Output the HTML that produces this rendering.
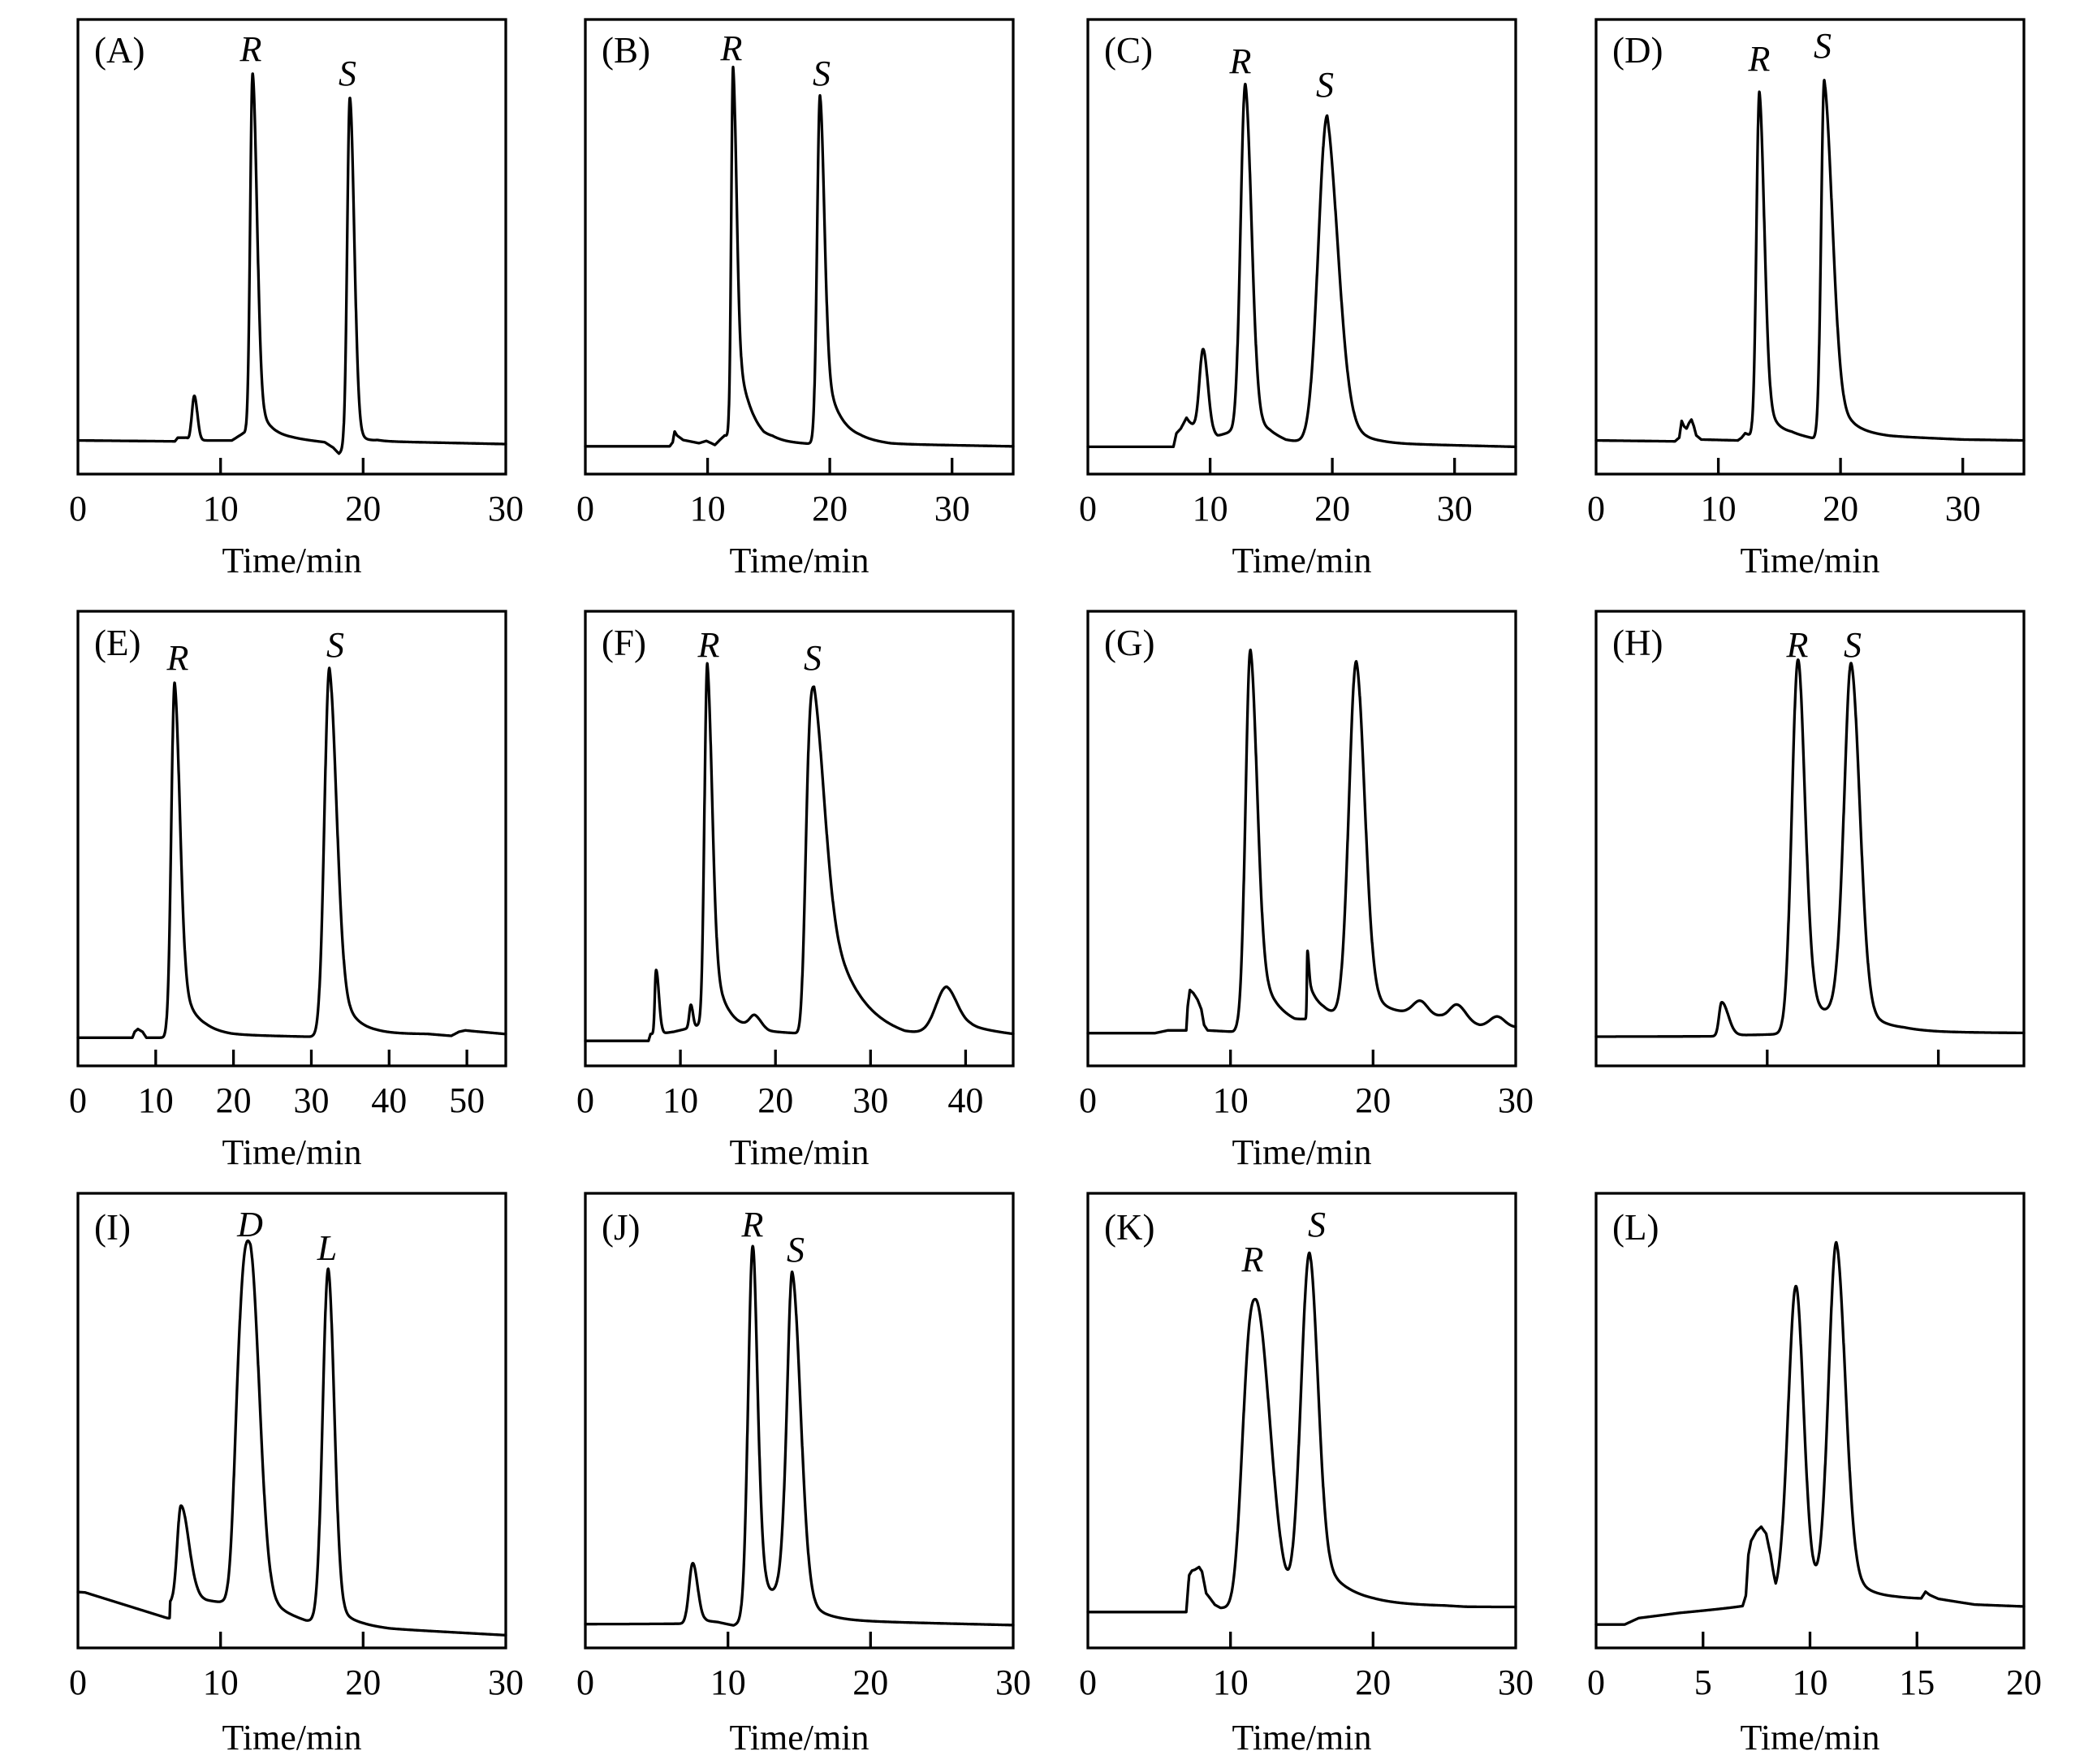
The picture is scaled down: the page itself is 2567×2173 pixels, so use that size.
<!DOCTYPE html>
<html><head><meta charset="utf-8">
<style>
html,body{margin:0;padding:0;background:#fff;}
svg{display:block;}
text{font-family:"Liberation Serif","Times New Roman",serif;fill:#000;}
.it{font-style:italic;}
</style></head><body>
<svg id="s" width="2567" height="2173" viewBox="0 0 2567 2173" xmlns="http://www.w3.org/2000/svg">
<rect width="2567" height="2173" fill="#fff"/>
<g fill="none" stroke="#000" stroke-width="3.3">
<rect x="96" y="24" width="527" height="560"/>
<rect x="721" y="24" width="527" height="560"/>
<rect x="1340" y="24" width="527" height="560"/>
<rect x="1966" y="24" width="527" height="560"/>
<rect x="96" y="753" width="527" height="560"/>
<rect x="721" y="753" width="527" height="560"/>
<rect x="1340" y="753" width="527" height="560"/>
<rect x="1966" y="753" width="527" height="560"/>
<rect x="96" y="1470" width="527" height="560"/>
<rect x="721" y="1470" width="527" height="560"/>
<rect x="1340" y="1470" width="527" height="560"/>
<rect x="1966" y="1470" width="527" height="560"/>
<path d="M271.7 584V564M447.3 584V564
M871.6 584V564M1022.1 584V564M1172.7 584V564
M1490.6 584V564M1641.1 584V564M1791.7 584V564
M2116.6 584V564M2267.1 584V564M2417.7 584V564
M191.8 1313V1293M287.6 1313V1293M383.5 1313V1293M479.3 1313V1293M575.1 1313V1293
M838.1 1313V1293M955.2 1313V1293M1072.3 1313V1293M1189.4 1313V1293
M1515.7 1313V1293M1691.3 1313V1293
M2176.8 1313V1293M2387.6 1313V1293
M271.7 2030V2010M447.3 2030V2010
M896.7 2030V2010M1072.3 2030V2010
M1515.7 2030V2010M1691.3 2030V2010
M2097.75 2030V2010M2229.5 2030V2010M2361.25 2030V2010"/>
</g>
<g id="traces" fill="none" stroke="#000" stroke-width="3.3" stroke-linejoin="round" stroke-linecap="round"></g>

<g font-size="45">
<text x="116" y="77">(A)</text>
<text x="741" y="77">(B)</text>
<text x="1360" y="77">(C)</text>
<text x="1986" y="77">(D)</text>
<text x="116" y="807">(E)</text>
<text x="741" y="807">(F)</text>
<text x="1360" y="807">(G)</text>
<text x="1986" y="807">(H)</text>
<text x="116" y="1527">(I)</text>
<text x="741" y="1527">(J)</text>
<text x="1360" y="1527">(K)</text>
<text x="1986" y="1527">(L)</text>
</g>

<g font-size="44" class="it" text-anchor="middle">
<text x="309" y="75">R</text><text x="428" y="105">S</text>
<text x="901" y="74">R</text><text x="1012" y="105">S</text>
<text x="1528" y="90">R</text><text x="1632" y="119">S</text>
<text x="2167" y="87">R</text><text x="2245" y="71">S</text>
<text x="219" y="825">R</text><text x="413" y="809">S</text>
<text x="873" y="809">R</text><text x="1001" y="825">S</text>
<text x="2214" y="809">R</text><text x="2282" y="809">S</text>
<text x="308" y="1523">D</text><text x="403" y="1552">L</text>
<text x="927" y="1523">R</text><text x="980" y="1554">S</text>
<text x="1543" y="1566">R</text><text x="1622" y="1523">S</text>
</g>

<g font-size="44" text-anchor="middle">
<text x="96" y="641">0</text><text x="271.7" y="641">10</text><text x="447.3" y="641">20</text><text x="623" y="641">30</text>
<text x="721" y="641">0</text><text x="871.6" y="641">10</text><text x="1022.1" y="641">20</text><text x="1172.7" y="641">30</text>
<text x="1340" y="641">0</text><text x="1490.6" y="641">10</text><text x="1641.1" y="641">20</text><text x="1791.7" y="641">30</text>
<text x="1966" y="641">0</text><text x="2116.6" y="641">10</text><text x="2267.1" y="641">20</text><text x="2417.7" y="641">30</text>

<text x="96" y="1370">0</text><text x="191.8" y="1370">10</text><text x="287.6" y="1370">20</text><text x="383.5" y="1370">30</text><text x="479.3" y="1370">40</text><text x="575.1" y="1370">50</text>
<text x="721" y="1370">0</text><text x="838.1" y="1370">10</text><text x="955.2" y="1370">20</text><text x="1072.3" y="1370">30</text><text x="1189.4" y="1370">40</text>
<text x="1340" y="1370">0</text><text x="1515.7" y="1370">10</text><text x="1691.3" y="1370">20</text><text x="1867" y="1370">30</text>

<text x="96" y="2087">0</text><text x="271.7" y="2087">10</text><text x="447.3" y="2087">20</text><text x="623" y="2087">30</text>
<text x="721" y="2087">0</text><text x="896.7" y="2087">10</text><text x="1072.3" y="2087">20</text><text x="1248" y="2087">30</text>
<text x="1340" y="2087">0</text><text x="1515.7" y="2087">10</text><text x="1691.3" y="2087">20</text><text x="1867" y="2087">30</text>
<text x="1966" y="2087">0</text><text x="2097.75" y="2087">5</text><text x="2229.5" y="2087">10</text><text x="2361.25" y="2087">15</text><text x="2493" y="2087">20</text>

<text x="359.5" y="705">Time/min</text>
<text x="984.5" y="705">Time/min</text>
<text x="1603.5" y="705">Time/min</text>
<text x="2229.5" y="705">Time/min</text>
<text x="359.5" y="1434">Time/min</text>
<text x="984.5" y="1434">Time/min</text>
<text x="1603.5" y="1434">Time/min</text>
<text x="359.5" y="2155">Time/min</text>
<text x="984.5" y="2155">Time/min</text>
<text x="1603.5" y="2155">Time/min</text>
<text x="2229.5" y="2155">Time/min</text>
</g>
</svg>
<script>
(function(){
var W=527,H=560;
var CL=[96,721,1340,1966], RT=[24,753,1470];
function interp(b,t){
  if(t<=b[0][0]) return b[0][1];
  for(var i=1;i<b.length;i++){
    if(t<=b[i][0]){var t0=b[i-1][0],v0=b[i-1][1],t1=b[i][0],v1=b[i][1];return v0+(v1-v0)*(t-t0)/(t1-t0);}
  }
  return b[b.length-1][1];
}
function side(d,w,m,p){var z=Math.abs(d)/w;return (1-m)*Math.exp(-0.693147*Math.pow(z,p))+m/(1+z*z);}
function pk(t,q){
  var d=t-q.t;
  if(d<0) return q.h*side(d,q.l,q.ml||0,q.pl||2);
  var a=q.a||0,tau=q.tau||1;
  return q.h*((1-a)*side(d,q.r,q.mr||0,q.pr||2)+a*Math.exp(-d/tau));
}
var P=[
{c:0,r:0,tm:30,b:[[0,0.074],[6.8,0.072],[7.0,0.08],[7.6,0.08],[7.8,0.074],[10.8,0.074],[11.2,0.082],[11.6,0.09],[13,0.082],[15,0.078],[17.3,0.07],[17.9,0.058],[18.3,0.045],[18.7,0.055],[21,0.072],[30,0.066]],
 p:[{t:8.16,h:0.098,l:0.2,r:0.25},{t:12.25,h:0.795,l:0.2,r:0.36,a:0.15,tau:0.8},{t:19.07,h:0.77,l:0.22,r:0.36,a:0.1,tau:0.6}]},
{c:1,r:0,tm:35,b:[[0,0.061],[6.9,0.061],[7.15,0.07],[7.3,0.094],[7.5,0.085],[8.0,0.075],[9.3,0.068],[9.9,0.073],[10.3,0.068],[10.6,0.064],[11.0,0.075],[11.4,0.085],[12.5,0.078],[14.6,0.066],[15.3,0.07],[16.4,0.068],[18.2,0.066],[20.5,0.07],[22.5,0.072],[25,0.066],[35,0.061]],
 p:[{t:12.09,h:0.815,l:0.18,r:0.33,a:0.33,tau:1.1},{t:19.2,h:0.765,l:0.28,r:0.42,a:0.3,tau:1.2}]},
{c:2,r:0,tm:35,b:[[0,0.06],[7.0,0.06],[7.25,0.09],[7.6,0.1],[8.07,0.124],[8.3,0.115],[8.57,0.108],[9.0,0.1],[10.0,0.088],[10.6,0.084],[11.6,0.092],[12.9,0.088],[14.9,0.085],[16.2,0.073],[17.5,0.07],[20,0.068],[24,0.068],[26,0.066],[35,0.06]],
 p:[{t:9.43,h:0.18,l:0.35,r:0.45},{t:12.88,h:0.77,l:0.45,r:0.6,a:0.15,tau:0.9},{t:19.58,h:0.72,l:0.85,r:1.1,a:0.3,tau:1.2}]},
{c:3,r:0,tm:35,b:[[0,0.074],[6.45,0.072],[6.8,0.08],[7.0,0.117],[7.2,0.105],[7.4,0.1],[7.6,0.112],[7.8,0.12],[8.0,0.105],[8.2,0.085],[8.6,0.076],[11.6,0.074],[11.9,0.08],[12.2,0.09],[12.6,0.085],[14,0.087],[16,0.088],[17.8,0.078],[18.2,0.08],[21,0.09],[24,0.083],[30,0.076],[35,0.074]],
 p:[{t:13.36,h:0.755,l:0.28,r:0.48,a:0.2,tau:0.8},{t:18.67,h:0.785,l:0.3,r:0.8,a:0.25,tau:1.1}]},
{c:0,r:1,tm:55,b:[[0,0.062],[7.0,0.062],[7.3,0.075],[7.7,0.081],[8.3,0.075],[8.8,0.062],[11.05,0.062],[12.4,0.068],[16.5,0.072],[19.7,0.068],[29.9,0.064],[32,0.065],[36,0.068],[38.4,0.07],[44.9,0.07],[48,0.066],[49,0.075],[49.8,0.078],[51,0.076],[55,0.07]],
 p:[{t:12.43,h:0.775,l:0.5,r:0.8,a:0.25,tau:1.8},{t:32.33,h:0.81,l:0.75,r:1.1,a:0.25,tau:2.0}]},
{c:1,r:1,tm:45,b:[[0,0.055],[6.65,0.055],[6.85,0.07],[8.3,0.072],[9.3,0.075],[10.3,0.08],[11.8,0.088],[13,0.085],[15.9,0.08],[17.8,0.082],[19.3,0.075],[21.9,0.072],[30,0.06],[33.6,0.056],[40.5,0.076],[45,0.068]],
 p:[{t:7.44,h:0.14,l:0.15,r:0.35},{t:11.1,h:0.05,l:0.2,r:0.25},{t:12.83,h:0.8,l:0.35,r:0.6,a:0.3,tau:1.3},{t:17.8,h:0.025,l:0.6,r:0.8},{t:24.06,h:0.765,l:0.9,pl:3,r:1.3,a:0.55,tau:3.2},{t:38.0,h:0.1,l:1.3,r:1.3,a:0.3,tau:2.5}]},
{c:2,r:1,tm:30,b:[[0,0.072],[4.7,0.072],[5.6,0.078],[6.9,0.078],[7.0,0.13],[7.15,0.167],[7.4,0.16],[7.7,0.145],[7.95,0.125],[8.15,0.09],[8.4,0.078],[10.2,0.075],[12,0.09],[14.5,0.085],[16.5,0.105],[20.5,0.11],[22.4,0.112],[24.7,0.108],[27.5,0.088],[30,0.085]],
 p:[{t:11.4,h:0.83,l:0.4,r:0.55,a:0.25,tau:1.3},{t:15.4,h:0.15,l:0.05,r:0.12,a:0.6,tau:0.8},{t:18.82,h:0.78,l:0.6,r:0.7,a:0.15,tau:1.2},{t:23.3,h:0.03,l:0.6,r:0.6},{t:25.9,h:0.035,l:0.6,r:0.7},{t:28.7,h:0.022,l:0.6,r:0.6}]},
{c:3,r:1,tm:25,b:[[0,0.064],[6.85,0.064],[8.4,0.066],[10.4,0.066],[13,0.07],[16,0.068],[18,0.074],[20,0.073],[25,0.072]],
 p:[{t:7.34,h:0.074,l:0.18,r:0.45},{t:11.8,h:0.818,l:0.42,r:0.5,mr:0.35},{t:14.9,h:0.81,l:0.5,ml:0.35,r:0.6,a:0.12,tau:1.3}]},
{c:0,r:2,tm:30,b:[[0,0.123],[0.5,0.122],[6.43,0.064],[6.47,0.1],[7.0,0.105],[8.3,0.11],[9.0,0.105],[10.1,0.1],[10.3,0.098],[12,0.09],[14,0.075],[16,0.058],[18,0.052],[20,0.048],[21.85,0.042],[30,0.028]],
 p:[{t:7.22,h:0.207,l:0.3,r:0.65},{t:11.2,h:0.12,l:0.35,r:0.5},{t:12.1,h:0.785,l:0.9,pl:2.6,r:0.75,a:0.15,tau:1.0},{t:17.55,h:0.78,l:0.45,r:0.5,a:0.1,tau:1.0}]},
{c:1,r:2,tm:30,b:[[0,0.052],[6.78,0.052],[8.4,0.058],[9.3,0.054],[10.4,0.045],[10.86,0.05],[12,0.055],[16.2,0.06],[18.6,0.058],[30,0.05]],
 p:[{t:7.53,h:0.13,l:0.3,r:0.4},{t:11.74,h:0.82,l:0.38,r:0.42,mr:0.5},{t:14.5,h:0.76,l:0.45,ml:0.5,r:0.7,a:0.12,tau:1.2}]},
{c:2,r:2,tm:30,b:[[0,0.079],[6.9,0.079],[7.1,0.16],[7.3,0.17],[7.5,0.172],[7.8,0.178],[8.0,0.168],[8.3,0.12],[8.6,0.108],[8.9,0.095],[9.3,0.088],[10.1,0.087],[14,0.087],[20,0.093],[25,0.092],[26.5,0.09],[30,0.09]],
 p:[{t:11.74,h:0.68,l:0.95,pl:2.6,r:1.2},{t:15.54,h:0.78,l:0.7,r:0.7,a:0.2,tau:2.0}]},
{c:3,r:2,tm:20,b:[[0,0.051],[1.34,0.051],[1.99,0.065],[3.9,0.076],[6.85,0.088],[7.0,0.11],[7.12,0.2],[7.25,0.23],[7.5,0.25],[7.72,0.258],[7.95,0.24],[8.15,0.19],[8.4,0.1],[10,0.1],[14,0.107],[15.2,0.107],[15.4,0.122],[15.6,0.115],[16,0.107],[17.7,0.095],[20,0.091]],
 p:[{t:9.34,h:0.69,l:0.43,r:0.43,ml:0.15,mr:0.15},{t:11.23,h:0.785,l:0.43,ml:0.15,r:0.5,a:0.15,tau:0.9}]}
];
var g=document.getElementById('traces');
var NS='http://www.w3.org/2000/svg';
for(var k=0;k<P.length;k++){
  var q=P[k],L=CL[q.c],T=RT[q.r],N=2600,d='';
  for(var i=0;i<=N;i++){
    var t=q.tm*i/N,v=interp(q.b,t);
    for(var j=0;j<q.p.length;j++) v+=pk(t,q.p[j]);
    var x=L+t/q.tm*W,y=T+H-v*H;
    if(y<T+2)y=T+2; if(y>T+H-2)y=T+H-2;
    d+=(i?'L':'M')+x.toFixed(1)+' '+y.toFixed(1);
  }
  var pa=document.createElementNS(NS,'path');
  pa.setAttribute('d',d);
  g.appendChild(pa);
}
})();
</script>
</body></html>
